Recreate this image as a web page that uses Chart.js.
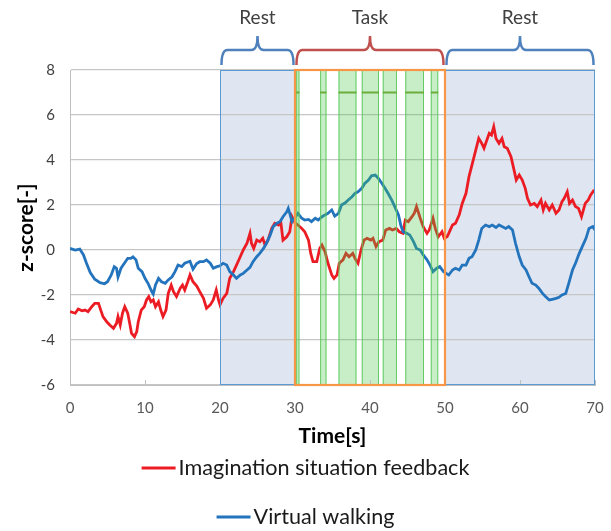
<!DOCTYPE html>
<html>
<head>
<meta charset="utf-8">
<script src="https://cdn.jsdelivr.net/npm/chart.js@4.4.1/dist/chart.umd.min.js"></script>
<style>
  html, body { margin: 0; padding: 0; background: #fff; }
  #wrap { width: 611px; height: 531px; position: relative; }
</style>
</head>
<body>
<div id="wrap"><canvas id="chart"></canvas></div>
<script>
// ── data ─────────────────────────────────────────────────────────────────────

const redLabel = 'Imagination situation feedback';
const redTime = [
  0.0, 0.7, 1.1, 1.6, 2.0, 2.4, 2.9, 3.3, 3.8, 4.1, 4.4, 4.9, 5.3, 5.8, 6.2, 6.4, 6.7, 7.0, 7.3, 7.7,
  8.0, 8.2, 8.6, 8.9, 9.1, 9.5, 9.9, 10.2, 10.5, 10.8, 11.1, 11.4, 11.8, 12.1, 12.4, 12.8, 13.1, 13.5, 13.8, 14.2,
  14.7, 15.0, 15.3, 15.7, 16.0, 16.4, 16.9, 17.3, 17.8, 18.2, 18.7, 19.1, 19.5, 19.8, 20.0, 20.4, 20.9, 21.3, 21.8, 22.2,
  22.7, 23.1, 23.6, 24.0, 24.2, 24.5, 24.9, 25.3, 25.7, 26.0, 26.4, 26.9, 27.3, 27.8, 28.1, 28.4, 28.9, 29.3, 29.6, 30.0,
  30.4, 30.9, 31.3, 31.8, 32.1, 32.4, 32.9, 33.3, 33.6, 34.0, 34.4, 34.9, 35.2, 35.6, 35.9, 36.4, 36.8, 37.2, 37.7, 38.1,
  38.4, 38.8, 39.2, 39.6, 40.1, 40.4, 40.8, 41.2, 41.7, 42.1, 42.6, 43.0, 43.5, 43.9, 44.4, 44.7, 45.1, 45.6, 45.9, 46.2,
  46.7, 47.1, 47.6, 47.9, 48.4, 48.7, 49.1, 49.6, 49.9, 50.3, 50.5, 51.0, 51.4, 51.9, 52.3, 52.8, 53.2, 53.6, 54.1, 54.5,
  54.9, 55.2, 55.5, 55.9, 56.2, 56.5, 56.8, 57.2, 57.6, 57.9, 58.3, 58.8, 59.2, 59.5, 59.9, 60.3, 60.7, 61.0, 61.4, 61.9,
  62.3, 62.8, 63.1, 63.4, 63.9, 64.3, 64.8, 65.2, 65.6, 65.9, 66.3, 66.6, 67.0, 67.4, 67.8, 68.2, 68.7, 69.1, 69.4, 69.9
];
const redValues = [
  -2.74, -2.81, -2.62, -2.70, -2.67, -2.74, -2.52, -2.37, -2.37, -2.67, -2.96, -3.19, -3.33, -3.48, -3.26, -2.96, -3.33, -2.81, -2.52, -2.81,
  -3.33, -3.70, -3.85, -3.63, -3.19, -2.67, -2.52, -2.22, -2.07, -2.30, -2.22, -2.52, -2.30, -2.67, -2.96, -2.67, -1.93, -1.56, -1.85, -2.07,
  -1.70, -1.56, -1.78, -1.41, -1.11, -1.41, -1.60, -1.85, -2.15, -2.59, -2.44, -2.22, -1.78, -2.22, -2.44, -2.15, -1.93, -1.26, -0.96, -0.67,
  -0.30, 0.00, 0.30, 0.74, 0.30, 0.07, 0.44, 0.37, 0.52, 0.22, 0.44, 0.96, 1.19, 1.11, 1.26, 0.44, 0.59, 0.81, 1.48, 1.20,
  1.11, 0.96, 0.81, 0.44, -0.15, -0.52, -0.52, 0.07, 0.22, -0.07, -0.59, -1.11, -1.26, -1.11, -0.59, -0.44, -0.15, -0.30, -0.15, -0.44,
  -0.59, 0.00, 0.44, 0.52, 0.44, 0.52, 0.15, 0.37, 0.44, 0.89, 0.96, 0.89, 0.96, 0.81, 0.74, 1.33, 1.26, 1.48, 1.63, 1.93,
  1.41, 1.04, 0.74, 0.89, 1.41, 0.96, 0.59, 0.81, 0.52, 0.60, 0.74, 1.11, 1.19, 1.56, 2.07, 2.52, 3.26, 3.78, 4.44, 4.96,
  4.74, 4.52, 4.81, 5.19, 5.11, 5.48, 4.96, 4.74, 4.96, 4.59, 4.52, 4.15, 3.56, 3.11, 3.33, 3.11, 2.74, 2.30, 2.00, 2.07,
  1.93, 2.22, 1.78, 2.07, 1.78, 2.00, 1.63, 1.78, 2.15, 2.30, 2.59, 2.07, 2.22, 1.93, 1.85, 1.48, 2.07, 2.22, 2.44, 2.67
];

const blueLabel = 'Virtual walking';
const blueTime = [
  0.0, 0.7, 1.3, 1.8, 2.2, 2.7, 3.3, 4.0, 4.6, 5.0, 5.5, 5.9, 6.2, 6.4, 6.8, 7.25, 7.7, 8.1, 8.4, 8.8,
  9.1, 9.6, 10.0, 10.4, 10.9, 11.1, 11.4, 11.8, 12.2, 12.7, 13.1, 13.6, 14.0, 14.4, 14.9, 15.3, 15.8, 16.0, 16.4, 16.9,
  17.3, 17.8, 18.2, 18.7, 19.1, 19.6, 20.0, 20.4, 20.9, 21.3, 21.8, 22.2, 22.7, 23.1, 23.6, 24.0, 24.4, 24.9, 25.3, 25.8,
  26.2, 26.7, 27.1, 27.6, 28.0, 28.4, 28.9, 29.1, 29.3, 29.6, 29.9, 30.4, 30.9, 31.3, 31.8, 32.2, 32.7, 33.1, 33.6, 34.0,
  34.4, 34.9, 35.3, 35.8, 36.2, 36.7, 37.1, 37.6, 38.0, 38.4, 38.9, 39.3, 39.8, 40.2, 40.7, 41.1, 41.6, 42.0, 42.4, 42.9,
  43.3, 43.8, 44.1, 44.4, 44.9, 45.3, 45.8, 46.2, 46.7, 47.1, 47.6, 48.0, 48.4, 48.9, 49.3, 49.8, 50.2, 50.5, 51.0, 51.4,
  51.9, 52.3, 52.8, 53.2, 53.6, 54.1, 54.5, 54.9, 55.4, 55.9, 56.3, 56.8, 57.2, 57.6, 58.1, 58.5, 59.0, 59.4, 59.9, 60.3,
  60.8, 61.2, 61.6, 62.1, 62.5, 63.0, 63.4, 63.9, 64.3, 64.8, 65.2, 65.6, 66.1, 66.5, 67.0, 67.4, 67.9, 68.3, 68.8, 69.2,
  69.7, 70.0
];
const blueValues = [
  0.07, 0.00, 0.04, -0.22, -0.59, -1.00, -1.30, -1.45, -1.50, -1.41, -1.11, -0.74, -0.81, -1.20, -0.81, -0.59, -0.37, -0.37, -0.30, -0.44,
  -0.81, -0.96, -1.26, -1.48, -1.85, -1.96, -1.55, -1.26, -1.41, -1.48, -1.33, -1.19, -0.96, -0.67, -0.74, -0.59, -0.52, -0.50, -0.85, -0.60,
  -0.52, -0.52, -0.44, -0.59, -0.81, -0.74, -0.70, -0.59, -0.67, -0.96, -1.11, -1.26, -1.11, -1.04, -0.89, -0.77, -0.52, -0.30, -0.15, 0.07,
  0.30, 0.67, 1.04, 1.19, 1.26, 1.48, 1.70, 1.85, 1.63, 1.26, 1.40, 1.63, 1.41, 1.33, 1.36, 1.26, 1.41, 1.33, 1.48, 1.56,
  1.63, 1.78, 1.51, 1.63, 2.00, 2.10, 2.22, 2.37, 2.52, 2.59, 2.74, 2.96, 3.11, 3.30, 3.33, 3.19, 2.96, 2.74, 2.52, 2.22,
  1.93, 1.56, 1.11, 0.81, 0.74, 0.67, 0.37, 0.07, 0.00, -0.22, -0.44, -0.67, -0.96, -0.81, -0.74, -0.96, -1.05, -1.11, -0.89, -0.81,
  -0.89, -0.67, -0.67, -0.37, -0.30, 0.00, 0.44, 0.96, 1.11, 1.04, 1.11, 1.00, 1.11, 1.04, 0.96, 1.04, 0.89, 0.30, -0.30, -0.67,
  -0.89, -1.19, -1.48, -1.56, -1.70, -1.93, -2.07, -2.22, -2.19, -2.15, -2.10, -2.00, -1.93, -1.48, -0.89, -0.59, -0.15, 0.15, 0.52, 0.96,
  1.04, 0.89
];

// experiment phases (seconds)
const phaseLabels = ['Rest', 'Task', 'Rest'];
const phaseStarts = [20, 30, 50];
const phaseEnds   = [30, 50, 70];

// green task windows inside the Task phase (seconds) and their marker level
const bandStarts = [30.15, 33.35, 35.8, 38.9, 41.7, 44.7, 48.1];
const bandEnds   = [30.6, 34.2, 38.2, 41.2, 43.6, 47.2, 49.1];
const bandLevel = 7;

// axis ticks
const xTicks = [0, 10, 20, 30, 40, 50, 60, 70];
const yTicks = [-6, -4, -2, 0, 2, 4, 6, 8];

// ── styling ──────────────────────────────────────────────────────────────────

const FONT = 'Lato, "Open Sans", sans-serif';
const RED = '#ec1c24';
const BLUE = '#2374bd';
const PHASE_COLORS = ['#4f81bd', '#c0504d', '#4f81bd'];

const toPoints = (ts, vs) => ts.map((t, i) => ({ x: t, y: vs[i] }));

// shaded phases behind the grid, bands/borders/braces over the lines
const phasePlugin = {
  id: 'phases',
  beforeDraw(chart) {
    const { ctx, chartArea: a, scales: { x } } = chart;
    ctx.save();
    ctx.fillStyle = '#dfe6f1';
    ctx.fillRect(x.getPixelForValue(phaseStarts[0]), a.top, x.getPixelForValue(70) - x.getPixelForValue(phaseStarts[0]), a.bottom - a.top);
    ctx.fillStyle = '#ffffff';
    ctx.fillRect(x.getPixelForValue(phaseStarts[1]), a.top, x.getPixelForValue(phaseEnds[1]) - x.getPixelForValue(phaseStarts[1]), a.bottom - a.top);
    ctx.restore();
  },
  afterDatasetsDraw(chart) {
    const { ctx, chartArea: a, scales: { x, y } } = chart;
    ctx.save();

    // green task windows
    bandStarts.forEach((s, i) => {
      const x1 = x.getPixelForValue(s), x2 = x.getPixelForValue(bandEnds[i]);
      ctx.fillStyle = 'rgba(70,200,70,0.30)';
      ctx.fillRect(x1, a.top, x2 - x1, a.bottom - a.top);
      ctx.strokeStyle = 'rgba(90,200,90,0.9)';
      ctx.lineWidth = 1;
      ctx.strokeRect(x1 + 0.5, a.top, x2 - x1 - 1, a.bottom - a.top);
      ctx.strokeStyle = '#6aae3c';
      ctx.lineWidth = 2;
      ctx.beginPath();
      ctx.moveTo(x1, y.getPixelForValue(bandLevel));
      ctx.lineTo(x2, y.getPixelForValue(bandLevel));
      ctx.stroke();
    });

    // small inside tick marks on the time axis
    ctx.strokeStyle = '#bfbfbf';
    ctx.lineWidth = 1;
    xTicks.forEach(t => {
      const px = Math.round(x.getPixelForValue(t)) + 0.5;
      ctx.beginPath();
      ctx.moveTo(px, a.bottom);
      ctx.lineTo(px, a.bottom - 5);
      ctx.stroke();
    });

    // rest region outline and task box
    const rx1 = x.getPixelForValue(phaseStarts[0]), rx2 = x.getPixelForValue(phaseEnds[2]);
    ctx.strokeStyle = '#5b9bd5';
    ctx.lineWidth = 1;
    ctx.strokeRect(rx1 + 0.5, a.top + 0.5, rx2 - rx1 - 1, a.bottom - a.top - 1);
    const tx1 = x.getPixelForValue(phaseStarts[1]), tx2 = x.getPixelForValue(phaseEnds[1]);
    ctx.strokeStyle = '#f79646';
    ctx.lineWidth = 2.2;
    ctx.strokeRect(tx1, a.top, tx2 - tx1, a.bottom - a.top);

    // braces + labels above the plot
    const yEnd = a.top - 5, yMid = a.top - 20, yTip = a.top - 34, r = 6;
    phaseLabels.forEach((label, i) => {
      const x1 = x.getPixelForValue(phaseStarts[i]) + 1.5;
      const x2 = x.getPixelForValue(phaseEnds[i]) - 1.5;
      const xm = (x1 + x2) / 2;
      ctx.strokeStyle = PHASE_COLORS[i];
      ctx.lineWidth = 2.5;
      ctx.beginPath();
      ctx.moveTo(x1, yEnd);
      ctx.quadraticCurveTo(x1, yMid, x1 + r, yMid);
      ctx.lineTo(xm - r, yMid);
      ctx.quadraticCurveTo(xm, yMid, xm, yTip);
      ctx.quadraticCurveTo(xm, yMid, xm + r, yMid);
      ctx.lineTo(x2 - r, yMid);
      ctx.quadraticCurveTo(x2, yMid, x2, yEnd);
      ctx.stroke();
      ctx.fillStyle = '#404040';
      ctx.font = '19px ' + FONT;
      ctx.textAlign = 'center';
      ctx.textBaseline = 'middle';
      ctx.fillText(label, xm, 18);
    });
    ctx.restore();
  },
};

// legend: one entry per row, centred under the chart
const stackedLegend = {
  id: 'stackedLegend',
  afterDraw(chart) {
    const { ctx } = chart;
    const rows = [468, 517];
    ctx.save();
    ctx.font = '21.6px ' + FONT;
    ctx.textBaseline = 'middle';
    ctx.textAlign = 'left';
    chart.data.datasets.forEach((ds, i) => {
      const tw = ctx.measureText(ds.label).width;
      const lineW = 34, gap = 3;
      const x0 = (chart.width - (lineW + gap + tw)) / 2;
      ctx.strokeStyle = ds.borderColor;
      ctx.lineWidth = 3;
      ctx.beginPath();
      ctx.moveTo(x0, rows[i]);
      ctx.lineTo(x0 + lineW, rows[i]);
      ctx.stroke();
      ctx.fillStyle = '#1a1a1a';
      ctx.fillText(ds.label, x0 + lineW + gap, rows[i]);
    });
    ctx.restore();
  },
};

new Chart(document.getElementById('chart'), {
  type: 'line',
  data: {
    datasets: [
      { label: redLabel,  data: toPoints(redTime, redValues),   borderColor: RED,  borderWidth: 2.8, pointRadius: 0, order: 1 },
      { label: blueLabel, data: toPoints(blueTime, blueValues), borderColor: BLUE, borderWidth: 2.8, pointRadius: 0, order: 0 },
    ],
  },
  options: {
    responsive: true,
    maintainAspectRatio: false,
    animation: false,
    layout: { padding: { top: 70, right: 0, left: 0, bottom: 0 } },
    plugins: {
      legend: { display: false },
      tooltip: { enabled: false },
    },
    scales: {
      x: {
        type: 'linear',
        min: 0,
        max: 70,
        afterBuildTicks: s => { s.ticks = xTicks.map(v => ({ value: v })); },
        afterFit: s => { s.height = 146; s.paddingRight = 16; },
        grid: { drawOnChartArea: false, drawTicks: false },
        border: { color: '#bfbfbf' },
        ticks: { padding: 14, color: '#595959', font: { family: FONT, size: 15 } },
        title: {
          display: true,
          text: 'Time[s]',
          color: '#000',
          font: { family: FONT, size: 21, weight: 'bold' },
          padding: { top: 0, bottom: 82 },
        },
      },
      y: {
        min: -6,
        max: 8,
        afterBuildTicks: s => { s.ticks = yTicks.map(v => ({ value: v })); },
        afterFit: s => { s.width = 70; },
        grid: { color: '#c6c6c6', lineWidth: 1.2, drawTicks: false },
        border: { color: '#bfbfbf' },
        ticks: { padding: 15, color: '#404040', font: { family: FONT, size: 15 } },
        title: {
          display: true,
          text: 'z-score[-]',
          color: '#000',
          font: { family: FONT, size: 21, weight: 'bold' },
          padding: { top: 14, bottom: 0 },
        },
      },
    },
  },
  plugins: [phasePlugin, stackedLegend],
});
</script>
</body>
</html>
